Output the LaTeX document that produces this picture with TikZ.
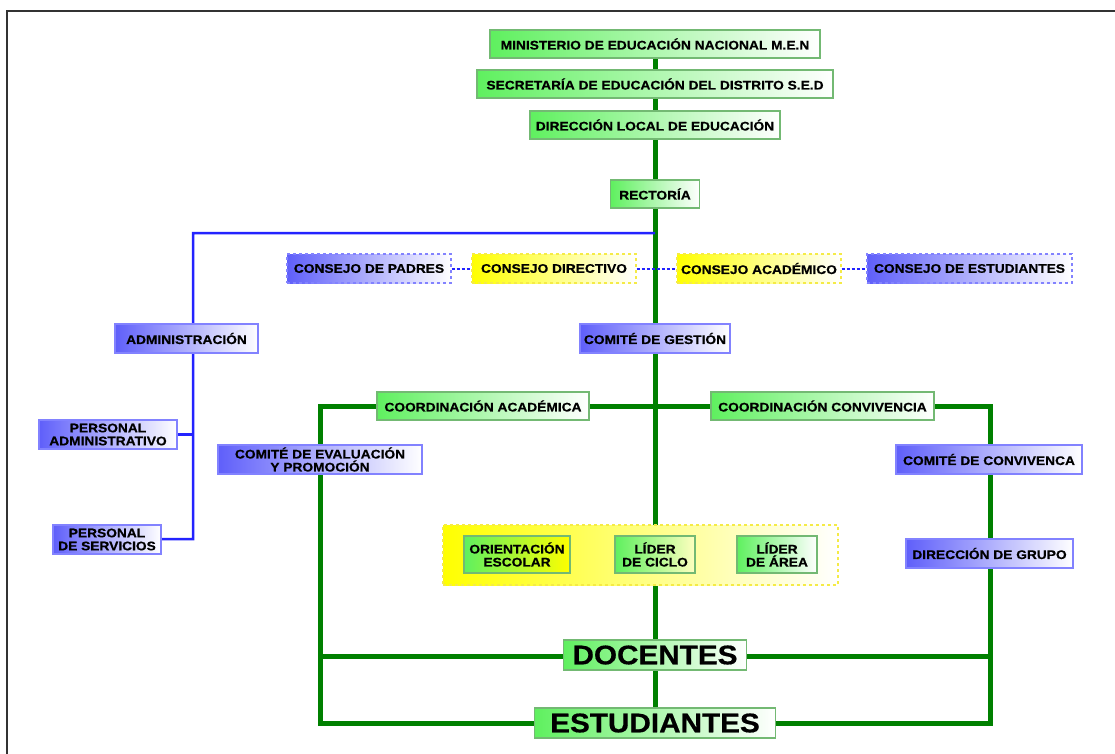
\documentclass[tikz,border=0pt]{standalone}
\usepackage{fontspec}
\setmainfont{Liberation Sans}[FakeStretch=1.1, BoldFeatures={FakeBold=0.6}]
\usetikzlibrary{backgrounds}
\definecolor{gfill}{RGB}{95,240,95}
\definecolor{gdraw}{RGB}{115,185,115}
\definecolor{bfill}{RGB}{95,95,250}
\definecolor{bdraw}{RGB}{130,130,255}
\definecolor{yfill}{RGB}{255,255,0}
\definecolor{ydraw}{RGB}{245,235,70}
\definecolor{gline}{RGB}{0,128,0}
\definecolor{bline}{RGB}{35,35,255}
\tikzset{
  box/.style={inner sep=0pt, align=center, font=\bfseries\fontsize{12.5}{13}\selectfont, text=black},
  gbox/.style={box, draw=gdraw, line width=1.4pt, left color=gfill, right color=white},
  bbox/.style={box, draw=bdraw, line width=1.4pt, left color=bfill, right color=white},
  ybox/.style={box, draw=ydraw, line width=1.4pt, dashed, left color=yfill, right color=white},
  bdash/.style={bbox, dashed},
  bigtext/.style={font=\bfseries\fontsize{27}{28}\selectfont},
  gconn/.style={draw=gline, line width=5pt},
  bconn/.style={draw=bline, line width=2.5pt},
  dconn/.style={draw=bline, line width=2pt, dash pattern=on 3pt off 2pt},
  sz/.style 2 args={minimum width=#1pt, minimum height=#2pt}
}
\begin{document}
\begin{tikzpicture}[x=1pt,y=-1pt]
\useasboundingbox (0,0) rectangle (1115,753);

\node[gbox, sz={330}{28}] (min) at (655,44) {MINISTERIO DE EDUCACIÓN NACIONAL M.E.N};
\node[gbox, sz={356}{28}] (sec) at (655,84) {SECRETARÍA DE EDUCACIÓN DEL DISTRITO S.E.D};
\node[gbox, sz={250}{28}] (dir) at (655,125) {DIRECCIÓN LOCAL DE EDUCACIÓN};
\node[gbox, sz={89}{28}] (rect) at (655,194) {RECTORÍA};

\node[bdash, sz={164}{29}] (cp) at (369,268.5) {CONSEJO DE PADRES};
\node[ybox, sz={164}{29}] (cd) at (554,268.5) {CONSEJO DIRECTIVO};
\node[ybox, sz={164}{29}] (ca) at (759,268.5) {CONSEJO ACADÉMICO};
\node[bdash, sz={205}{29}] (ce) at (969.5,268.5) {CONSEJO DE ESTUDIANTES};

\node[bbox, sz={143}{29}] (adm) at (186.5,338.5) {ADMINISTRACIÓN};
\node[bbox, sz={150}{29}] (gest) at (655,338.5) {COMITÉ DE GESTIÓN};
\node[bbox, sz={138}{29}] (pa) at (108,434.5) {PERSONAL\\ADMINISTRATIVO};
\node[bbox, sz={108}{29}] (ps) at (107,539.5) {PERSONAL\\DE SERVICIOS};

\node[gbox, sz={212}{28}] (coa) at (483,406) {COORDINACIÓN ACADÉMICA};
\node[gbox, sz={223}{28}] (coc) at (822.5,406) {COORDINACIÓN CONVIVENCIA};
\node[bbox, sz={204}{29}] (cev) at (320,459.5) {COMITÉ DE EVALUACIÓN\\Y PROMOCIÓN};
\node[bbox, sz={186}{29}] (ccv) at (989,459.5) {COMITÉ DE CONVIVENCA};
\node[bbox, sz={167}{29}] (dgr) at (989.5,553.5) {DIRECCIÓN DE GRUPO};

\node[ybox, sz={395}{60}] (grp) at (640.5,555) {};
\node[gbox, right color=yfill, sz={106}{37}] (oe) at (517,554.5) {ORIENTACIÓN\\ESCOLAR};
\node[gbox, right color=yfill!25, sz={80}{37}] (lc) at (655,554.5) {LÍDER\\DE CICLO};
\node[gbox, sz={80}{37}] (la) at (777,554.5) {LÍDER\\DE ÁREA};

\node[gbox, sz={183}{30}, bigtext] (doc) at (655,655) {DOCENTES};
\node[gbox, sz={241}{30}, bigtext] (est) at (655,723) {ESTUDIANTES};

\coordinate (bj) at (655,233);
\coordinate (at) at (193,233);
\coordinate (ab) at (193,539);
\coordinate (cl) at (320,406);
\coordinate (cr) at (990,406);
\coordinate (dl) at (320,656);
\coordinate (dr) at (990,656);
\coordinate (el) at (320,723);
\coordinate (er) at (990,723);

\begin{scope}[on background layer]
\fill[white] (0,0) rectangle (1115,753);
\draw[line width=2pt, black!80] (7,760) -- (7,11) -- (1120,11);
\draw[gconn] (min) -- (sec);
\draw[gconn] (sec) -- (dir);
\draw[gconn] (dir) -- (rect);
\draw[gconn] (rect) -- (gest);
\draw[gconn] (gest) -- (doc);
\draw[gconn] (doc) -- (est);
\draw[gconn] (cl) -- (el) -- (er) -- (cr) -- cycle;
\draw[gconn] (dl) -- (dr);
\draw[bconn] (bj) -- (at) -- (ab) -- (ps);
\draw[bconn] (pa) -- (pa -| at);
\draw[dconn] (cp) -- (cd);
\draw[dconn] (cd) -- (ca);
\draw[dconn] (ca) -- (ce);
\end{scope}
\end{tikzpicture}
\end{document}
